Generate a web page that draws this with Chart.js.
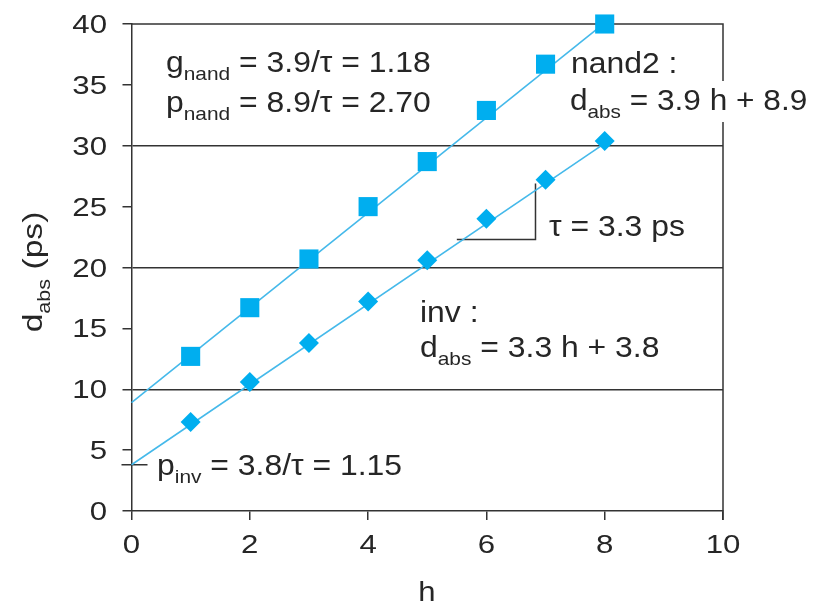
<!DOCTYPE html>
<html>
<head>
<meta charset="utf-8">
<script src="https://cdn.jsdelivr.net/npm/chart.js@4/dist/chart.umd.min.js"></script>
<style>html,body{margin:0;background:#fff}</style>
</head>
<body>
<canvas id="c" width="820" height="604"></canvas>
<script>
// fanout h and measured delays (ps)
const hValues = [1, 2, 3, 4, 5, 6, 7, 8];
const nandDelay = [12.7, 16.7, 20.7, 25.0, 28.7, 32.9, 36.7, 40.0];
const invDelay = [7.3, 10.6, 13.8, 17.2, 20.6, 24.0, 27.2, 30.4];

// fitted lines, end points
const fitH = [0, 8];
const nandFit = [8.9, 40.1];
const invFit = [3.8, 30.2];

// slope triangle for tau
const tauH = [5.5, 6.83, 6.83];
const tauD = [22.3, 22.3, 26.9];
const pInvMark = 3.8;

// axes
const xTickLabels = ['0', '2', '4', '6', '8', '10'];
const yTickLabels = ['0', '5', '10', '15', '20', '25', '30', '35', '40'];
const yGridAt = [10, 20, 30];

const ink = '#333';
const textInk = '#262626';
const blue = '#00aeef';
const lineBlue = '#45b9ea';
const FONT = '"Liberation Sans", Arial, sans-serif';

// draws text made of pieces, some of them subscript, stretched horizontally
function rich(ctx, x, y, parts, size, stretch, align) {
    ctx.save();
    ctx.translate(x, y);
    ctx.scale(stretch, 1);
    var w = 0;
    parts.forEach(function(p){
        ctx.font = (p.sub ? Math.round(size * 0.64) : size) + 'px ' + FONT;
        w += ctx.measureText(p.t).width;
    });
    var cx = align == 'center' ? -w / 2 : align == 'right' ? -w : 0;
    ctx.textAlign = 'left';
    ctx.textBaseline = 'alphabetic';
    ctx.fillStyle = textInk;
    parts.forEach(function(p){
        ctx.font = (p.sub ? Math.round(size * 0.64) : size) + 'px ' + FONT;
        ctx.fillText(p.t, cx, p.sub ? size * 0.28 : 0);
        cx += ctx.measureText(p.t).width;
    });
    ctx.restore();
    return w * stretch;
}

const decor = {
    id: 'decor',
    beforeDatasetsDraw(chart) {
        const ctx = chart.ctx, a = chart.chartArea, y = chart.scales.y;
        ctx.save();
        ctx.strokeStyle = ink;
        ctx.lineWidth = 1.5;
        ctx.beginPath();
        ctx.moveTo(a.left, a.top);
        ctx.lineTo(a.right, a.top);
        ctx.lineTo(a.right, a.bottom + 9);
        // p_inv mark on the y axis
        var py = y.getPixelForValue(pInvMark);
        ctx.moveTo(a.left - 10, py);
        ctx.lineTo(a.left + 16, py);
        ctx.stroke();
        ctx.restore();
    },
    afterDatasetsDraw(chart) {
        const ctx = chart.ctx, xs = chart.scales.x, ys = chart.scales.y;

        // tick labels
        xs.ticks.forEach(function(t, i){
            rich(ctx, xs.getPixelForValue(t.value), 553, [{ t: xTickLabels[i] }], 26, 1.2, 'center');
        });
        ys.ticks.forEach(function(t, i){
            rich(ctx, 107, ys.getPixelForValue(t.value) + 9, [{ t: yTickLabels[i] }], 26, 1.2, 'right');
        });

        // axis titles
        rich(ctx, 427, 601, [{ t: 'h' }], 27, 1.15, 'center');
        ctx.save();
        ctx.translate(42, 272);
        ctx.rotate(-Math.PI / 2);
        rich(ctx, 0, 0, [{ t: 'd' }, { t: 'abs', sub: true }, { t: ' (ps)' }], 28, 1.2, 'center');
        ctx.restore();

        // annotations
        rich(ctx, 166, 72, [{ t: 'g' }, { t: 'nand', sub: true }, { t: ' = 3.9/τ = 1.18' }], 29, 1.1);
        rich(ctx, 166, 112, [{ t: 'p' }, { t: 'nand', sub: true }, { t: ' = 8.9/τ = 2.70' }], 29, 1.1);
        rich(ctx, 571, 73, [{ t: 'nand2 :' }], 29, 1.1);
        ctx.save();
        ctx.fillStyle = '#fff';
        ctx.fillRect(566, 81, 246, 41);
        ctx.restore();
        rich(ctx, 570, 110, [{ t: 'd' }, { t: 'abs', sub: true }, { t: ' = 3.9 h + 8.9' }], 29, 1.09);
        rich(ctx, 549, 236, [{ t: 'τ = 3.3 ps' }], 29, 1.1);
        rich(ctx, 420, 322, [{ t: 'inv :' }], 29, 1.1);
        rich(ctx, 420, 357, [{ t: 'd' }, { t: 'abs', sub: true }, { t: ' = 3.3 h + 3.8' }], 29, 1.1);
        rich(ctx, 157, 475, [{ t: 'p' }, { t: 'inv', sub: true }, { t: ' = 3.8/τ = 1.15' }], 29, 1.1);
    }
};

function pts(xs, ys) {
    return xs.map(function(x, i){ return { x: x, y: ys[i] }; });
}

new Chart(document.getElementById('c'), {
    type: 'scatter',
    data: {
        datasets: [
            { label: 'nand2', data: pts(hValues, nandDelay), pointStyle: 'rect', pointRadius: 13.5,
              backgroundColor: blue, borderWidth: 0, clip: false },
            { label: 'inv', data: pts(hValues, invDelay), pointStyle: 'rectRot', pointRadius: 10,
              backgroundColor: blue, borderWidth: 0, clip: false },
            { type: 'line', data: pts(fitH, nandFit), borderColor: lineBlue, borderWidth: 1.6,
              pointRadius: 0, clip: false },
            { type: 'line', data: pts(fitH, invFit), borderColor: lineBlue, borderWidth: 1.6,
              pointRadius: 0, clip: false },
            { type: 'line', data: pts(tauH, tauD), borderColor: ink, borderWidth: 1.5,
              pointRadius: 0, clip: false }
        ]
    },
    options: {
        responsive: false,
        animation: false,
        devicePixelRatio: 1,
        layout: { padding: { top: 24, right: 97, left: 0, bottom: 0 } },
        plugins: { legend: { display: false }, tooltip: { enabled: false } },
        scales: {
            x: {
                type: 'linear', min: 0, max: 10,
                ticks: { stepSize: 2, display: false },
                grid: { color: 'rgba(0,0,0,0)', tickColor: ink, tickLength: 9, lineWidth: 1.5 },
                border: { color: ink, width: 1.5 },
                afterFit(s) { s.height = 93; }
            },
            y: {
                type: 'linear', min: 0, max: 40,
                ticks: { stepSize: 5, display: false },
                grid: {
                    color: function(c) { return c.tick && yGridAt.indexOf(c.tick.value) >= 0 ? ink : 'rgba(0,0,0,0)'; },
                    tickColor: ink, tickLength: 9, lineWidth: 1.5
                },
                border: { color: ink, width: 1.5 },
                afterFit(s) { s.width = 131.5; }
            }
        }
    },
    plugins: [decor]
});
</script>
</body>
</html>
